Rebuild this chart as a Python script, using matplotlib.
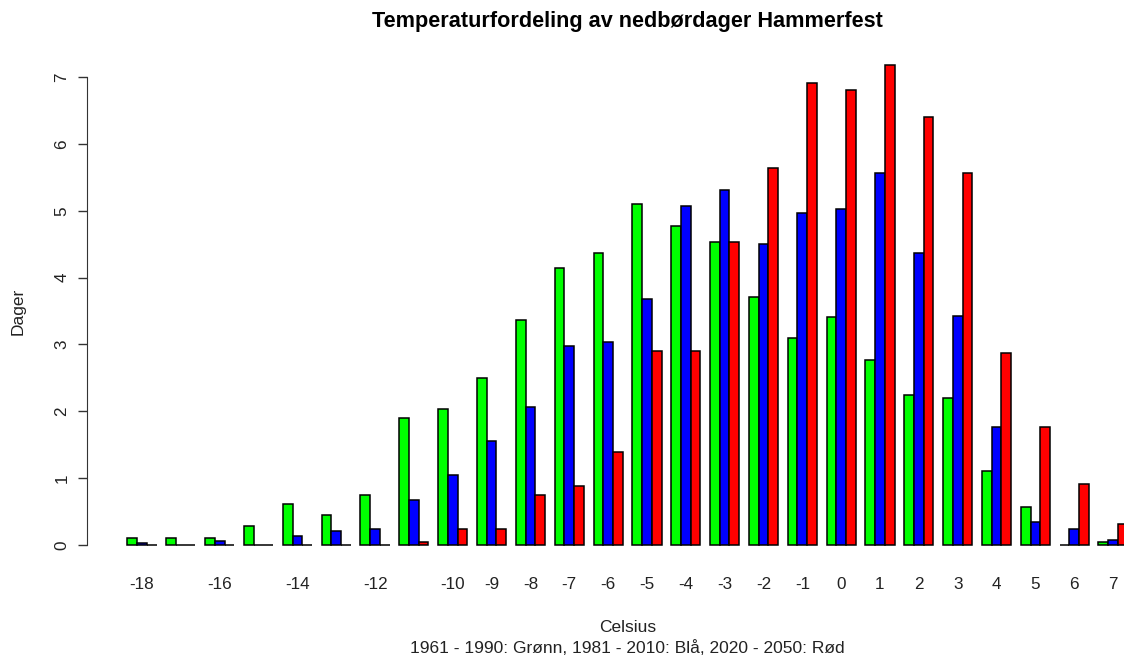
import numpy as np
import matplotlib.pyplot as plt

plt.rcParams['font.family'] = ['Liberation Sans', 'DejaVu Sans']

celsius = list(range(-18, 8))
green = [0.10, 0.10, 0.10, 0.28, 0.61, 0.45, 0.75, 1.90, 2.03, 2.50, 3.37, 4.14, 4.37,
         5.10, 4.77, 4.53, 3.71, 3.10, 3.41, 2.77, 2.24, 2.20, 1.11, 0.57, 0.00, 0.04]
blue = [0.03, 0.00, 0.06, 0.00, 0.14, 0.21, 0.24, 0.68, 1.05, 1.56, 2.06, 2.98, 3.04,
        3.68, 5.07, 5.31, 4.50, 4.97, 5.03, 5.56, 4.37, 3.43, 1.76, 0.34, 0.24, 0.07]
red = [0.00, 0.00, 0.00, 0.00, 0.00, 0.00, 0.00, 0.04, 0.24, 0.24, 0.75, 0.88, 1.39,
       2.90, 2.90, 4.53, 5.64, 6.91, 6.81, 7.18, 6.40, 5.57, 2.87, 1.76, 0.91, 0.31]
hidden = [-17, -15, -13, -11]

fig = plt.figure(figsize=(11.24, 6.57), dpi=100)
ax = fig.add_axes([0.0778, 0.1412, 0.961, 0.789])

# R barplot(beside=TRUE) layout: one bar of space before each group of three
grp = np.arange(len(celsius)) * 4
for k, (vals, col) in enumerate([(green, '#00FF00'), (blue, '#0000FF'), (red, '#FF0000')]):
    ax.bar(grp + 1 + k, vals, width=1, align='edge', color=col,
           edgecolor='black', linewidth=1.1)

ax.set_xlim(-3.12, 108.12)
ax.set_ylim(-0.287, 7.467)

ax.set_xticks(grp + 2.5)
ax.set_xticklabels(['' if c in hidden else str(c) for c in celsius], fontsize=12.3, color='#222222')
ax.tick_params(axis='x', length=0, pad=9)

ax.set_yticks(range(0, 8))
ax.set_yticklabels([str(v) for v in range(0, 8)], rotation=90, va='center',
                   fontsize=12.3, color='#222222')
ax.tick_params(axis='y', length=6.5, width=1, pad=6.5, color='#333333')

for s in ['top', 'right', 'bottom']:
    ax.spines[s].set_visible(False)
ax.spines['left'].set_bounds(0, 7)
ax.spines['left'].set_color('#333333')

fig.text(0.5585, 1 - 22 / 657, 'Temperaturfordeling av nedbørdager Hammerfest',
         ha='center', va='center', fontsize=15.6, fontweight='bold')
fig.text(0.5585, 1 - 627 / 657, 'Celsius', ha='center', va='center', fontsize=12.5, color='#222222')
fig.text(0.5585, 1 - 648 / 657, '1961 - 1990: Grønn, 1981 - 2010: Blå, 2020 - 2050: Rød',
         ha='center', va='center', fontsize=12.5, color='#222222')
fig.text(18 / 1124, 1 - 311 / 657, 'Dager', rotation=90, ha='center', va='center',
         fontsize=12.5, color='#222222')

fig.savefig('out.png', dpi=100)
